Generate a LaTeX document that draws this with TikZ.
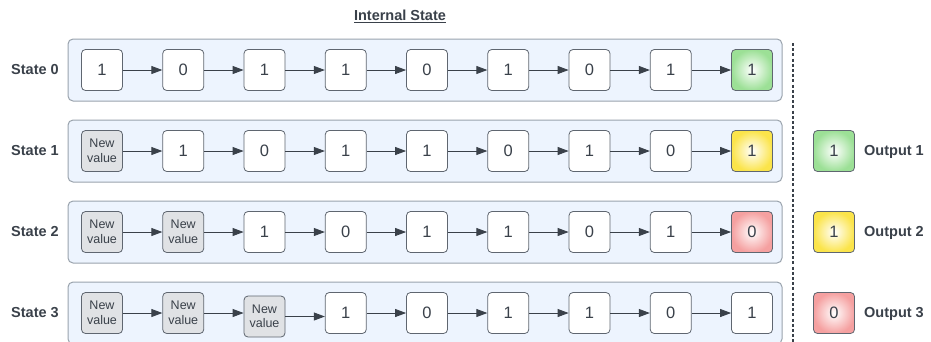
\documentclass[tikz,border=0pt]{standalone}
\usepackage{fontspec}
\setmainfont{Liberation Sans}
\usetikzlibrary{arrows.meta,calc}
\definecolor{txt}{HTML}{3A414A}
\definecolor{bord}{HTML}{5F6670}
\definecolor{contfill}{HTML}{EDF4FE}
\definecolor{contbord}{HTML}{9AA3AD}
\definecolor{nvfill}{HTML}{E0E2E5}
\definecolor{gout}{HTML}{9CE096}
\definecolor{yout}{HTML}{FBE44A}
\definecolor{rout}{HTML}{F5A0A0}
\newcommand{\nvtext}{New\\value}
\tikzset{
  bx/.style={draw=bord, line width=0.8pt, rounded corners=4pt, fill=white,
    minimum width=41pt, minimum height=41pt, inner sep=0pt, text=txt,
    font=\fontsize{16.5}{19}\selectfont},
  nv/.style={bx, fill=nvfill, align=center, font=\fontsize{12.5}{14.5}\selectfont},
  nvlow/.style={nv, yshift=-3.5pt},
  gbx/.style={bx, shading=radial, inner color=white, outer color=gout},
  ybx/.style={bx, shading=radial, inner color=white, outer color=yout},
  rbx/.style={bx, shading=radial, inner color=white, outer color=rout},
  cont/.style={draw=contbord, line width=1pt, fill=contfill, rounded corners=5pt},
  lbl/.style={text=txt, font=\bfseries\fontsize{14.5}{17}\selectfont, inner sep=0pt},
  arr/.style={draw=txt, line width=0.9pt, -{Triangle[length=11pt,width=8pt]}},
}
\begin{document}
\begin{tikzpicture}[x=1pt,y=-1pt]
\useasboundingbox (0,0) rectangle (931,341);
\clip (0,0) rectangle (931,341);
\fill[white] (0,0) rectangle (931,341);

\node[lbl] (title) at (400,16) {\underline{Internal State}};

% containers
\foreach \r/\yc in {0/70,1/151,2/232,3/313}{
  \path[cont] (68,\yc-31) rectangle (782,\yc+31);
  \node[lbl] (st\r) at (35,\yc) {State \r};
}

% row 0
\foreach \v/\s [count=\i] in {1/bx,0/bx,1/bx,1/bx,0/bx,1/bx,0/bx,1/bx,1/gbx}{
  \node[\s] (b0-\i) at ({102+(\i-1)*81.25},70) {\v};
}
% row 1
\foreach \v/\s [count=\i] in {\nvtext/nv,1/bx,0/bx,1/bx,1/bx,0/bx,1/bx,0/bx,1/ybx}{
  \node[\s] (b1-\i) at ({102+(\i-1)*81.25},151) {\v};
}
% row 2
\foreach \v/\s [count=\i] in {\nvtext/nv,\nvtext/nv,1/bx,0/bx,1/bx,1/bx,0/bx,1/bx,0/rbx}{
  \node[\s] (b2-\i) at ({102+(\i-1)*81.25},232) {\v};
}
% row 3
\foreach \v/\s [count=\i] in {\nvtext/nv,\nvtext/nv,\nvtext/nvlow,1/bx,0/bx,1/bx,1/bx,0/bx,1/bx}{
  \node[\s] (b3-\i) at ({102+(\i-1)*81.25},313) {\v};
}

% arrows
\foreach \r in {0,1,2,3}{
  \foreach \i in {1,...,8}{
    \pgfmathtruncatemacro\j{\i+1}
    \draw[arr] (b\r-\i.east) -- (b\r-\i.east -| b\r-\j.west);
  }
}

% separator
\coordinate (sepT) at (793,43);
\coordinate (sepB) at (793,345);
\draw[txt, line width=2.8pt, dash pattern=on 3pt off 2.2pt] (sepT) -- (sepB);

% outputs
\node[gbx] (o1) at (834,151) {1};
\node[ybx] (o2) at (834,232) {1};
\node[rbx] (o3) at (834,313) {0};
\node[lbl, anchor=west] (ol1) at (864,152) {Output 1};
\node[lbl, anchor=west] (ol2) at (864,233) {Output 2};
\node[lbl, anchor=west] (ol3) at (864,314) {Output 3};
\end{tikzpicture}
\end{document}
